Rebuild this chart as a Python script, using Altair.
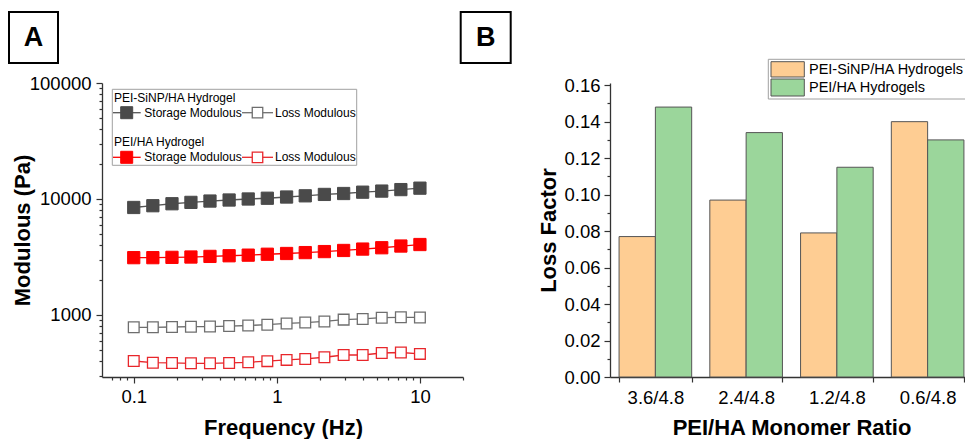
import altair as alt
import pandas as pd

FONT = "Liberation Sans"

# ---------------- Panel A data ----------------
freq = [0.1, 0.136, 0.185, 0.251, 0.341, 0.464, 0.631, 0.858, 1.17, 1.58,
        2.15, 2.93, 3.98, 5.41, 7.36, 10.0]
sinp_storage = [8450, 8750, 9100, 9350, 9600, 9800, 10000, 10150, 10400, 10650,
                10950, 11150, 11450, 11700, 12050, 12400]
sinp_loss = [783, 783, 788, 793, 795, 803, 812, 825, 845, 860,
             880, 912, 924, 948, 955, 952]
pei_storage = [3120, 3120, 3140, 3160, 3200, 3240, 3280, 3340, 3390, 3450,
               3520, 3600, 3700, 3800, 3930, 4050]
pei_loss = [401, 388, 386, 383, 383, 386, 391, 400, 410, 418,
            432, 452, 452, 470, 475, 462]

x_major = [0.1, 1, 10]
x_minor = [0.07, 0.08, 0.09, 0.2, 0.3, 0.4, 0.5, 0.6, 0.7, 0.8, 0.9,
           2, 3, 4, 5, 6, 7, 8, 9, 20]
y_major = [1000, 10000, 100000]
y_minor = [300, 400, 500, 600, 700, 800, 900,
           2000, 3000, 4000, 5000, 6000, 7000, 8000, 9000,
           20000, 30000, 40000, 50000, 60000, 70000, 80000, 90000]

legendA_groups = ["PEI-SiNP/HA Hydrogel", "PEI/HA Hydrogel"]
legendA_items = ["Storage Modulous", "Loss Modulous"]

# ---------------- Panel B data ----------------
ratios = ["3.6/4.8", "2.4/4.8", "1.2/4.8", "0.6/4.8"]
loss_sinp = [0.077, 0.097, 0.079, 0.140]
loss_pei = [0.148, 0.134, 0.115, 0.130]
seriesB = ["PEI-SiNP/HA Hydrogels", "PEI/HA Hydrogels"]
b_ticks = [round(0.01 * i, 2) for i in range(17)]

ORANGE = "#FECD93"
GREEN = "#9BD69B"
DARK = "#4A4A4A"
GREY = "#6E6E6E"
RED = "#FF0000"
RED_OPEN = "#E8262B"
AXIS = "#333333"

one = pd.DataFrame({"a": [0]})

# ---------------- layout (pixels inside the shared plot area) ----------------
H = 294            # plot height
WA = 361           # panel A x range
B0, B1 = 508, 871  # panel B x range

# ---------------- helpers ----------------
def text(s, x, y, size, weight="normal", align="left", color="black"):
    return alt.Chart(one).mark_text(text=s, align=align, baseline="middle",
                                    fontSize=size, font=FONT, fontWeight=weight,
                                    color=color).encode(x=alt.value(x), y=alt.value(y))


def box(x1, x2, y1, y2, stroke="black", sw=2, fill="white"):
    return alt.Chart(one).mark_rect(fill=fill, stroke=stroke, strokeWidth=sw).encode(
        x=alt.value(x1), x2=alt.value(x2), y=alt.value(y1), y2=alt.value(y2))


def seg(x1, x2, y, color, sw=1.3):
    return alt.Chart(one).mark_rule(color=color, strokeWidth=sw).encode(
        x=alt.value(x1), x2=alt.value(x2), y=alt.value(y))


def sym(x, y, fill, stroke, size, sw):
    return alt.Chart(one).mark_point(shape="square", filled=False, fill=fill, fillOpacity=1,
                                     stroke=stroke, strokeWidth=sw, size=size,
                                     opacity=1).encode(x=alt.value(x), y=alt.value(y))


# ---------------- Panel A ----------------
xscaleA = alt.Scale(type="log", domain=[0.06, 20], range=[0, WA], nice=False)
yscaleA = alt.Scale(type="log", domain=[292, 100000], range=[H, 0], nice=False)

xaxisA = alt.Axis(
    orient="bottom",
    values=x_major + x_minor,
    labelExpr="indexof([0.1,1,10], datum.value) >= 0 ? format(datum.value, '~g') : ''",
    tickSize={"condition": {"test": "indexof([0.1,1,10], datum.value) >= 0", "value": 6}, "value": 3},
    title="Frequency (Hz)",
    labelPadding=4,
    titleX=181, titleY=50, titleBaseline="middle", titleAlign="center",
)
yaxisA = alt.Axis(
    orient="left",
    values=y_major + y_minor,
    labelExpr="indexof([1000,10000,100000], datum.value) >= 0 ? format(datum.value, 'd') : ''",
    tickSize={"condition": {"test": "indexof([1000,10000,100000], datum.value) >= 0", "value": 6}, "value": 3},
    title="Modulous (Pa)",
    labelPadding=5,
    titleX=-80, titleY=H / 2, titleAngle=270, titleBaseline="middle", titleAlign="center",
)


def series(values, line_color, fill, stroke, size, sw, first=False):
    d = pd.DataFrame({"freq": freq, "value": values})
    base = alt.Chart(d)
    if first:
        enc = dict(x=alt.X("freq:Q", scale=xscaleA, axis=xaxisA),
                   y=alt.Y("value:Q", scale=yscaleA, axis=yaxisA))
    else:
        enc = dict(x=alt.X("freq:Q", scale=xscaleA),
                   y=alt.Y("value:Q", scale=yscaleA))
    line = base.mark_line(color=line_color, strokeWidth=1.3).encode(**enc)
    pts = base.mark_point(shape="square", filled=False, fill=fill, fillOpacity=1,
                          stroke=stroke, strokeWidth=sw, size=size,
                          opacity=1).encode(**enc)
    return [line, pts]


layersA = []
layersA += series(sinp_storage, "#555555", DARK, DARK, 150, 1, first=True)
layersA += series(sinp_loss, GREY, "white", GREY, 115, 1.3)
layersA += series(pei_storage, RED, RED, RED, 150, 1)
layersA += series(pei_loss, RED_OPEN, "white", RED_OPEN, 115, 1.3)

# legend of panel A
layersA.append(box(10.3, 254.7, 6.3, 82.3, stroke="#A0A0A0", sw=1))
rowsA = [(15, 29.7, DARK, "#555555", GREY, GREY),
         (58.7, 74.3, RED, RED, RED_OPEN, RED_OPEN)]
for (hy, ry, fs, lc, os_, olc), grp in zip(rowsA, legendA_groups):
    layersA.append(text(grp, 12, hy, 12))
    layersA.append(seg(11, 38.7, ry, lc))
    layersA.append(sym(24.7, ry, fs, fs, 144, 1))
    layersA.append(text(legendA_items[0], 42.3, ry, 12))
    layersA.append(seg(140, 171, ry, olc))
    layersA.append(sym(155.5, ry, "white", os_, 110, 1.3))
    layersA.append(text(legendA_items[1], 173, ry, 12))

# panel letters
layersA.append(box(-93, -44, -71, -20))
layersA.append(text("A", -68.5, -45, 27, weight="bold", align="center"))
layersA.append(box(358.7, 408.7, -71, -20))
layersA.append(text("B", 383.7, -45, 27, weight="bold", align="center"))

panelA = alt.layer(*layersA)

# ---------------- Panel B ----------------
dfB = pd.DataFrame({
    "ratio": ratios * 2,
    "series": [seriesB[0]] * 4 + [seriesB[1]] * 4,
    "loss": loss_sinp + loss_pei,
})

xscaleB = alt.Scale(domain=ratios, range=[B0, B1], paddingInner=0.2, paddingOuter=0.1)
yscaleB = alt.Scale(domain=[0, 0.1612], range=[H, 0], nice=False)

bars = alt.Chart(dfB).mark_bar(stroke="#555555", strokeWidth=1).encode(
    x=alt.X("ratio:N", sort=ratios, scale=xscaleB,
            axis=alt.Axis(orient="bottom", title="PEI/HA Monomer Ratio", labelAngle=0,
                          tickBand="extent", tickSize=5, labelPadding=6,
                          titleX=(B0 + B1) / 2, titleY=50, titleBaseline="middle",
                          titleAlign="center")),
    xOffset=alt.XOffset("series:N", sort=seriesB),
    y=alt.Y("loss:Q", scale=yscaleB,
            axis=alt.Axis(
                orient="left", offset=-B0,
                values=b_ticks,
                labelExpr="round(datum.value*100) % 2 == 0 ? format(datum.value, '.2f') : ''",
                tickSize={"condition": {"test": "round(datum.value*100) % 2 == 0", "value": 6},
                          "value": 3},
                title="Loss Factor", labelPadding=4,
                titleX=-62, titleY=H / 2, titleAngle=270, titleBaseline="middle",
                titleAlign="center")),
    color=alt.Color("series:N", sort=seriesB,
                    scale=alt.Scale(domain=seriesB, range=[ORANGE, GREEN]),
                    legend=None),
)

layersB = [bars]
layersB.append(box(B0 + 158.3, B1 + 4, -23.7, 16, stroke="#A0A0A0", sw=1))
layersB.append(box(B0 + 161, B0 + 194.3, -21.3, -6, stroke="#555555", sw=1, fill=ORANGE))
layersB.append(box(B0 + 161, B0 + 194.3, -4, 13, stroke="#555555", sw=1, fill=GREEN))
layersB.append(text(seriesB[0], B0 + 199, -13, 14.5))
layersB.append(text(seriesB[1], B0 + 199, 5, 14.5))

panelB = alt.layer(*layersB)

chart = alt.layer(panelA, panelB).resolve_scale(
    x="independent", y="independent"
).properties(
    width=863, height=H,
    autosize=alt.AutoSizeParams(type="none"),
    padding={"left": 94, "top": 75, "right": 0, "bottom": 62},
).configure_view(stroke=None).configure_axis(
    grid=False,
    domainColor=AXIS,
    domainWidth=1.3,
    tickColor=AXIS,
    tickWidth=1.2,
    labelFont=FONT,
    labelFontSize=18.5,
    labelColor="black",
    titleFont=FONT,
    titleFontSize=22,
    titleFontWeight="bold",
    titleColor="black",
)

chart.save("out.html", embed_options={"renderer": "svg", "actions": False})
